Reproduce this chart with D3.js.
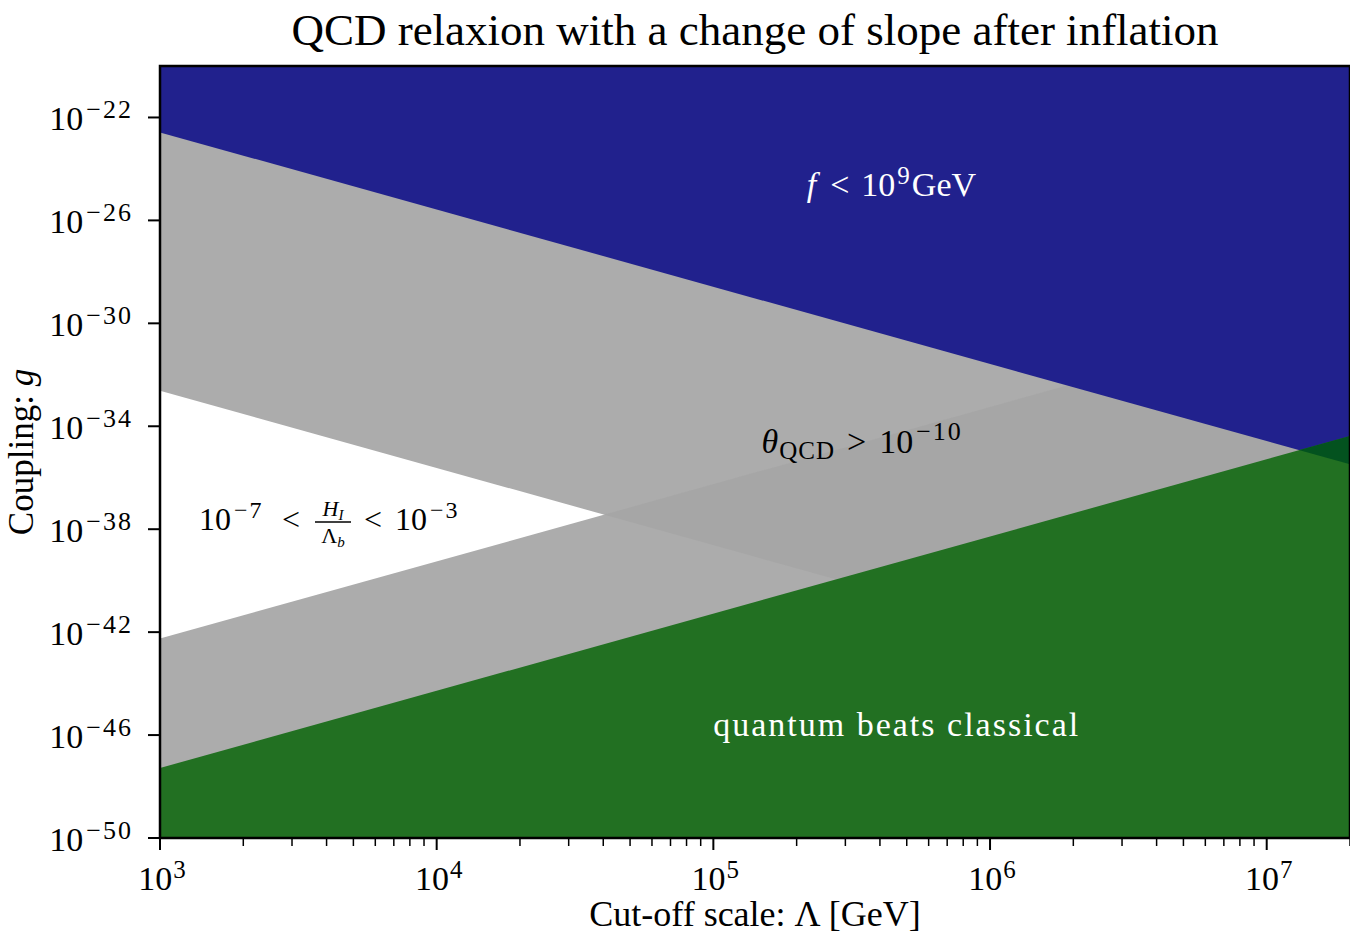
<!DOCTYPE html>
<html>
<head>
<meta charset="UTF-8">
<title>QCD relaxion</title>
<script src="https://d3js.org/d3.v7.min.js"></script>
<style>
	body { margin: 0; background: #fff; }
	text { font-family: "Liberation Serif", "DejaVu Serif", serif; }
</style>
</head>
<body>
<svg id="chart"></svg>
<script type="text/javascript">
	// boundaries: log10 g at Lambda = 1e3 and Lambda = 2e7
	var lambdaEnds = [1e3, 2e7];
	var fLimit = [-22.58, -35.48];        // f < 1e9 GeV above this
	var quantumLimit = [-47.28, -34.38];  // quantum beats classical below this
	var hubbleUpper = [-32.62, -45.52];   // grey above this
	var hubbleLower = [-42.25, -29.35];   // grey below this

	var gRange = [1e-50, 1e-20];
	var xMajor = [1e3, 1e4, 1e5, 1e6, 1e7];
	var yMajor = [1e-22, 1e-26, 1e-30, 1e-34, 1e-38, 1e-42, 1e-46, 1e-50];

	(function()
	{
		var width = 1350, height = 947;
		var mLeft = 160, mRight = 1350, mTop = 66, mBottom = 838;

		var svg = d3.select('#chart').attr('width', width).attr('height', height);

		var x = d3.scaleLog().domain(lambdaEnds).range([mLeft, mRight]);
		var y = d3.scaleLog().domain(gRange).range([mBottom, mTop]);

		var line = d3.line()
			.x(function(d) { return x(d[0]); })
			.y(function(d) { return y(d[1]); });

		// polygon between a boundary and the top or the bottom of the plot
		function region(ends, side)
		{
			var edge = side == 'above' ? gRange[1] : gRange[0];
			return [
				[lambdaEnds[0], Math.pow(10, ends[0])],
				[lambdaEnds[1], Math.pow(10, ends[1])],
				[lambdaEnds[1], edge],
				[lambdaEnds[0], edge]
			];
		}

		var defs = svg.append('defs');
		defs.append('clipPath').attr('id', 'clipGreyTop')
			.append('path').attr('d', line(region(hubbleUpper, 'above')) + 'Z');
		defs.append('clipPath').attr('id', 'clipBlue')
			.append('path').attr('d', line(region(fLimit, 'above')) + 'Z');

		var plot = svg.append('g');

		plot.append('path').attr('d', line(region(hubbleUpper, 'above')) + 'Z').attr('fill', '#acacac');
		plot.append('path').attr('d', line(region(hubbleLower, 'below')) + 'Z').attr('fill', '#acacac');
		// both grey regions overlap right of the apex
		plot.append('path').attr('d', line(region(hubbleLower, 'below')) + 'Z')
			.attr('fill', '#a6a6a6').attr('clip-path', 'url(#clipGreyTop)');

		plot.append('path').attr('d', line(region(fLimit, 'above')) + 'Z').attr('fill', '#21218d');
		plot.append('path').attr('d', line(region(quantumLimit, 'below')) + 'Z').attr('fill', '#227022');
		plot.append('path').attr('d', line(region(quantumLimit, 'below')) + 'Z')
			.attr('fill', '#03521f').attr('clip-path', 'url(#clipBlue)');

		// text with super/subscripts: parts = [text, size, shift, italic, dx, spacing]
		function rich(sel, px, py, parts, anchor, color)
		{
			var t = sel.append('text')
				.attr('x', px).attr('y', py)
				.attr('text-anchor', anchor || 'start')
				.attr('fill', color || '#000');
			var prev = 0;
			parts.forEach(function(p)
			{
				var shift = p[2] || 0;
				t.append('tspan')
					.attr('dx', p[4] || 0)
					.attr('dy', shift - prev)
					.attr('font-size', p[1])
					.attr('font-style', p[3] ? 'italic' : 'normal')
					.attr('letter-spacing', p[5] || 0)
					.text(p[0]);
				prev = shift;
			});
			return t;
		}

		// axes
		var minor = x.ticks().filter(function(d)
		{
			return xMajor.indexOf(d) < 0;
		});

		var ax = svg.append('g');
		ax.selectAll('line.xmin').data(minor).enter().append('line')
			.attr('x1', function(d) { return x(d); }).attr('x2', function(d) { return x(d); })
			.attr('y1', mBottom).attr('y2', mBottom + 8)
			.attr('stroke', '#000').attr('stroke-width', 1.5);
		ax.selectAll('line.xmaj').data(xMajor).enter().append('line')
			.attr('x1', function(d) { return x(d); }).attr('x2', function(d) { return x(d); })
			.attr('y1', mBottom).attr('y2', mBottom + 12)
			.attr('stroke', '#000').attr('stroke-width', 2);
		ax.selectAll('line.ymaj').data(yMajor).enter().append('line')
			.attr('y1', function(d) { return y(d); }).attr('y2', function(d) { return y(d); })
			.attr('x1', mLeft).attr('x2', mLeft - 12)
			.attr('stroke', '#000').attr('stroke-width', 2);

		xMajor.forEach(function(d)
		{
			var e = Math.round(Math.log10(d));
			rich(ax, x(d) + 2, 890, [['10', 34], [String(e), 25, -12, false, 1]], 'middle');
		});
		yMajor.forEach(function(d)
		{
			var e = Math.round(Math.log10(d));
			rich(ax, 133, y(d) + 13, [['10', 34], ['\u2212' + (-e), 26, -12, false, 3, 2]], 'end');
		});

		svg.append('rect')
			.attr('x', mLeft).attr('y', mTop)
			.attr('width', mRight - mLeft).attr('height', mBottom - mTop)
			.attr('fill', 'none').attr('stroke', '#000').attr('stroke-width', 2.5);

		// titles
		rich(svg, 755, 45, [['QCD relaxion with a change of slope after inflation', 45]], 'middle');
		rich(svg, 755, 926, [['Cut-off scale:  \u039b [GeV]', 36]], 'middle');
		rich(svg, 0, 0, [['Coupling:  ', 35], ['g', 35, 0, true]], 'middle')
			.attr('transform', 'translate(33,452) rotate(-90)');

		// labels inside the plot
		rich(svg, x(4.4e5), y(Math.pow(10, -25.05)),
			[['f', 34, 0, true], ['<', 34, 0, false, 14], ['10', 34, 0, false, 12], ['9', 25, -12, false, 2],
			 ['GeV', 34, 0, false, 2]], 'middle', '#fff');
		rich(svg, x(3.45e5), 453,
			[['\u03b8', 34, 0, true], ['QCD', 25, 6, false, 1, 1], ['>', 34, 0, false, 12],
			 ['10', 34, 0, false, 13], ['\u221210', 26, -13, false, 3, 2]], 'middle');
		rich(svg, x(4.6e5), 736, [['quantum beats classical', 34, 0, false, 0, 2]], 'middle', '#fff');

		var hub = svg.append('g');
		rich(hub, 199, 530, [['10', 32], ['\u22127', 24, -12, false, 3, 2]]);
		rich(hub, 282, 530, [['<', 32]]);
		rich(hub, 333, 516, [['H', 22, 0, true], ['I', 15, 4, true]], 'middle');
		hub.append('line').attr('x1', 315).attr('x2', 351).attr('y1', 522).attr('y2', 522)
			.attr('stroke', '#000').attr('stroke-width', 1.3);
		rich(hub, 333, 543, [['\u039b', 22], ['b', 15, 4, true]], 'middle');
		rich(hub, 364, 530, [['<', 32]]);
		rich(hub, 395, 530, [['10', 32], ['\u22123', 24, -12, false, 3, 2]]);
	})();
</script>
</body>
</html>
